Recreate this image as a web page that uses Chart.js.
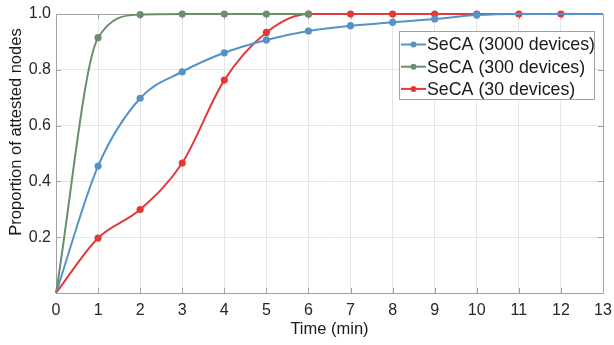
<!DOCTYPE html>
<html><head><meta charset="utf-8">
<script src="https://cdn.jsdelivr.net/npm/chart.js@4/dist/chart.umd.min.js"></script>
<style>html,body{margin:0;padding:0;background:#fff}#wrap{width:614px;height:345px}</style>
</head><body><div id="wrap"><canvas id="c" width="614" height="345"></canvas></div>
<script>
// ---- data ----
const times = [0,1,2,3,4,5,6,7,8,9,10,11,12,13];
const seca3000 = [0,0.455,0.698,0.793,0.861,0.907,0.939,0.958,0.970,0.982,0.996,1,1,1];
const seca300  = [0,0.915,0.998,1,1,1,1];
const seca30   = [0,0.197,0.299,0.466,0.763,0.934,1,1,1,1,1,1,1,1];
const seriesLabels = ['SeCA (3000 devices)','SeCA (300 devices)','SeCA (30 devices)'];
const xTickLabels = ['0','1','2','3','4','5','6','7','8','9','10','11','12','13'];
const yTickLabels = ['', '0.2','0.4','0.6','0.8','1.0'];
const xTitle = 'Time (min)';
const yTitle = 'Proportion of attested nodes';

const colors = ['#5593c6','#6a8f6c','#e23a3a'];
const FONT = '"Liberation Sans", Arial, Helvetica, sans-serif';
const markerMax = [10, 6, 12];

function pts(vals){ return vals.map((v,i)=>({x:times[i], y:v})); }

const dsSeries = [seca3000, seca300, seca30];
const drawOrder = [1, 0, 2]; // green on top, then blue, then red

const datasets = dsSeries.map((vals,k)=>({
  label: seriesLabels[k],
  data: pts(vals),
  borderColor: colors[k],
  backgroundColor: colors[k],
  borderWidth: 2,
  cubicInterpolationMode: 'monotone',
  order: drawOrder[k],
  pointRadius: ctx => (ctx.raw && ctx.raw.x >= 1 && ctx.raw.x <= markerMax[k]) ? 3.6 : 0,
  pointHoverRadius: 0,
  pointBorderWidth: 0,
  clip: 4
}));

const frame = {
  id: 'frame',
  beforeDatasetsDraw(chart){
    const {ctx, chartArea:a, scales:{x, y}} = chart;
    ctx.save();
    ctx.strokeStyle = '#a3a3a3';
    ctx.lineWidth = 1;
    ctx.beginPath();
    ctx.rect(Math.round(a.left)+0.5, Math.round(a.top)+0.5, Math.round(a.right-a.left), Math.round(a.bottom-a.top));
    ctx.stroke();
    const L = 5;
    ctx.beginPath();
    times.forEach(t=>{
      const px = Math.round(x.getPixelForValue(t))+0.5;
      ctx.moveTo(px, a.bottom); ctx.lineTo(px, a.bottom-L);
      ctx.moveTo(px, a.top); ctx.lineTo(px, a.top+L);
    });
    yTickLabels.forEach((_,i)=>{
      const py = Math.round(y.getPixelForValue(i*0.2))+0.5;
      ctx.moveTo(a.left, py); ctx.lineTo(a.left+L, py);
      ctx.moveTo(a.right, py); ctx.lineTo(a.right-L, py);
    });
    ctx.stroke();
    ctx.restore();
  },
  afterDraw(chart){
    const {ctx} = chart;
    ctx.save();
    // y title
    ctx.fillStyle = '#1a1a1a';
    ctx.font = '16.5px ' + FONT;
    ctx.translate(16, 132);
    ctx.rotate(-Math.PI/2);
    ctx.textAlign = 'center';
    ctx.textBaseline = 'middle';
    ctx.fillText(yTitle, 0, 0);
    ctx.restore();

    // legend
    ctx.save();
    const bx = 399, by = 31, bw = 195, bh = 68;
    ctx.fillStyle = '#fff';
    ctx.fillRect(bx, by, bw, bh);
    ctx.strokeStyle = '#a3a3a3';
    ctx.lineWidth = 1;
    ctx.strokeRect(bx+0.5, by+0.5, bw, bh);
    ctx.font = '17.8px ' + FONT;
    ctx.textBaseline = 'middle';
    ctx.textAlign = 'left';
    seriesLabels.forEach((lab,k)=>{
      const yy = 44.5 + k*22.2;
      ctx.strokeStyle = colors[k];
      ctx.lineWidth = 2;
      ctx.beginPath(); ctx.moveTo(bx+2, yy); ctx.lineTo(bx+27, yy); ctx.stroke();
      ctx.fillStyle = colors[k];
      ctx.beginPath(); ctx.arc(bx+14.5, yy, 3, 0, Math.PI*2); ctx.fill();
      ctx.fillStyle = '#1a1a1a';
      ctx.fillText(lab, bx+28, yy+1);
    });
    ctx.restore();
  }
};

new Chart(document.getElementById('c'), {
  type: 'line',
  data: { datasets },
  options: {
    responsive: false,
    devicePixelRatio: 1,
    animation: false,
    events: [],
    layout: { padding: { left: 0, right: 11, top: 14, bottom: 0 } },
    plugins: { legend: { display: false }, tooltip: { enabled: false } },
    scales: {
      x: {
        type: 'linear', min: 0, max: 13,
        afterFit(s){ s.height = 52; s.paddingRight = 0; s.paddingLeft = 0; },
        afterBuildTicks(s){ s.ticks = times.map(t=>({value:t})); },
        grid: { color: '#e6e6e6', drawTicks: false },
        border: { display: false },
        ticks: { padding: 8, color: '#262626', font: { size: 16, family: FONT },
          maxRotation: 0, callback: (v,i)=> xTickLabels[i] },
        title: { display: true, text: xTitle, color: '#1a1a1a', font: { size: 16.5, family: FONT }, padding: { top: 0, bottom: 6 } }
      },
      y: {
        type: 'linear', min: 0, max: 1,
        afterFit(s){ s.width = 56; s.paddingTop = 0; s.paddingBottom = 0; },
        afterBuildTicks(s){ s.ticks = yTickLabels.map((_,i)=>({value: i*0.2})); },
        grid: { color: '#e6e6e6', drawTicks: false },
        border: { display: false },
        ticks: { padding: 5, color: '#262626', font: { size: 16, family: FONT },
          callback: (v,i)=> yTickLabels[i] }
      }
    }
  },
  plugins: [frame]
});
</script>
</body></html>
